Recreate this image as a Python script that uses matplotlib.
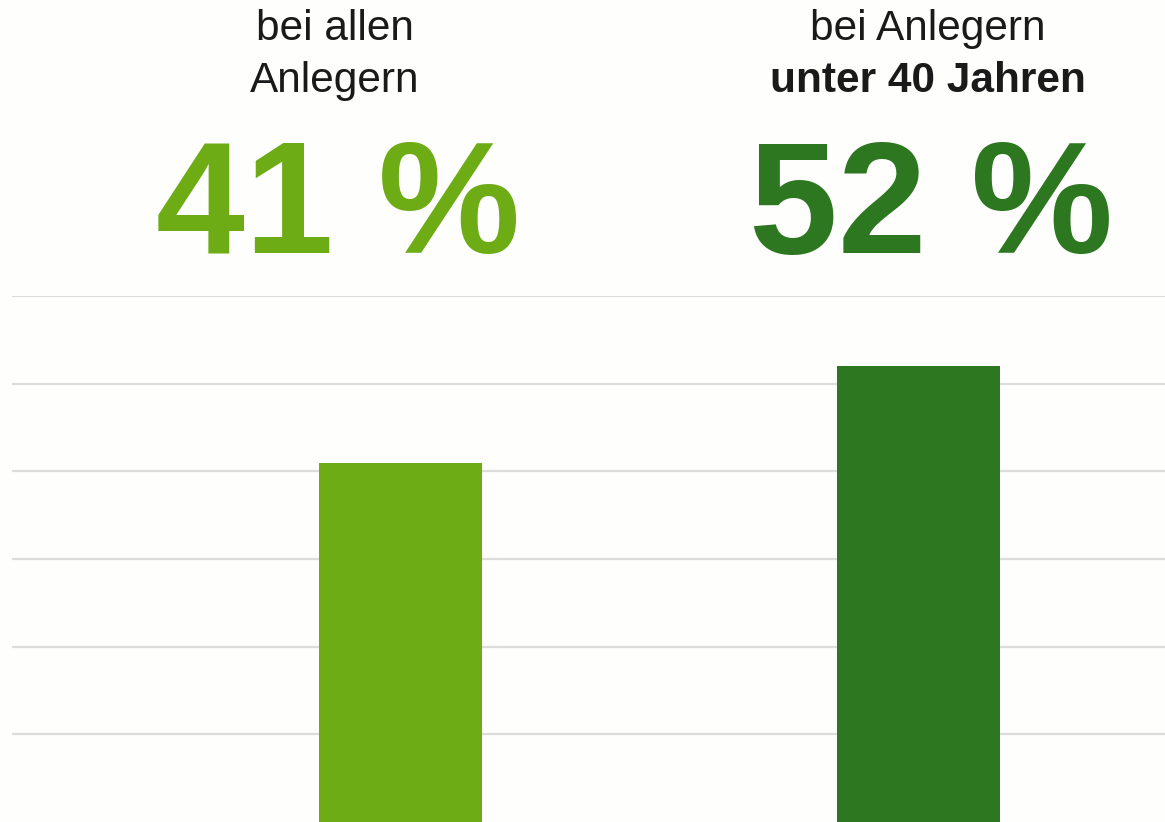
import matplotlib.pyplot as plt

# daten
gruppen = ["bei allen\nAnlegern", "bei Anlegern"]
gruppen_fett = ["", "unter 40 Jahren"]
werte = [41, 52]
farben = ["#6eac15", "#2c7720"]
y_ticks = [10, 20, 30, 40, 50, 60]

plt.rcParams['font.family'] = ['Liberation Sans', 'DejaVu Sans']

fig = plt.figure(figsize=(11.65, 8.22), dpi=100, facecolor="#fefefd")
W, H = 1165, 822
# achse: links 12px, rechts 1165px, unten 822px, oben 296px (=60 %)
ax = fig.add_axes([12 / W, 0, (1165 - 12) / W, (822 - 296) / H])
ax.set_facecolor("#fefefd")

x = range(len(werte))
ax.bar(x, werte, width=0.315, color=farben, zorder=3)
ax.set_xlim(-0.75, 1.476)
ax.set_ylim(0, 60)
ax.set_yticks(y_ticks)
ax.yaxis.grid(True, color="#dcdcdc", linewidth=1.6, zorder=0)
ax.tick_params(left=False, bottom=False, labelleft=False, labelbottom=False)
for s in ax.spines.values():
    s.set_visible(False)

# texte oben (in pixel von oben)
mitte = [335 / W, 928 / W]
for i in range(len(werte)):
    zeilen = gruppen[i].split("\n")
    fig.text(mitte[i], 1 - 40 / H, zeilen[0], ha="center", va="baseline",
             fontsize=30.5, color="#1a1a1a")
    if gruppen_fett[i]:
        fig.text(mitte[i], 1 - 92 / H, gruppen_fett[i], ha="center", va="baseline",
                 fontsize=30.5, color="#1a1a1a", fontweight="bold")
    else:
        fig.text(mitte[i], 1 - 92 / H, zeilen[1], ha="center", va="baseline",
                 fontsize=30.5, color="#1a1a1a")
    fig.text(mitte[i] + 3 / W, 1 - 253 / H, f"{werte[i]} %", ha="center", va="baseline",
             fontsize=115, fontweight="bold", color=farben[i])

fig.savefig("out.png", dpi=100, facecolor=fig.get_facecolor())
